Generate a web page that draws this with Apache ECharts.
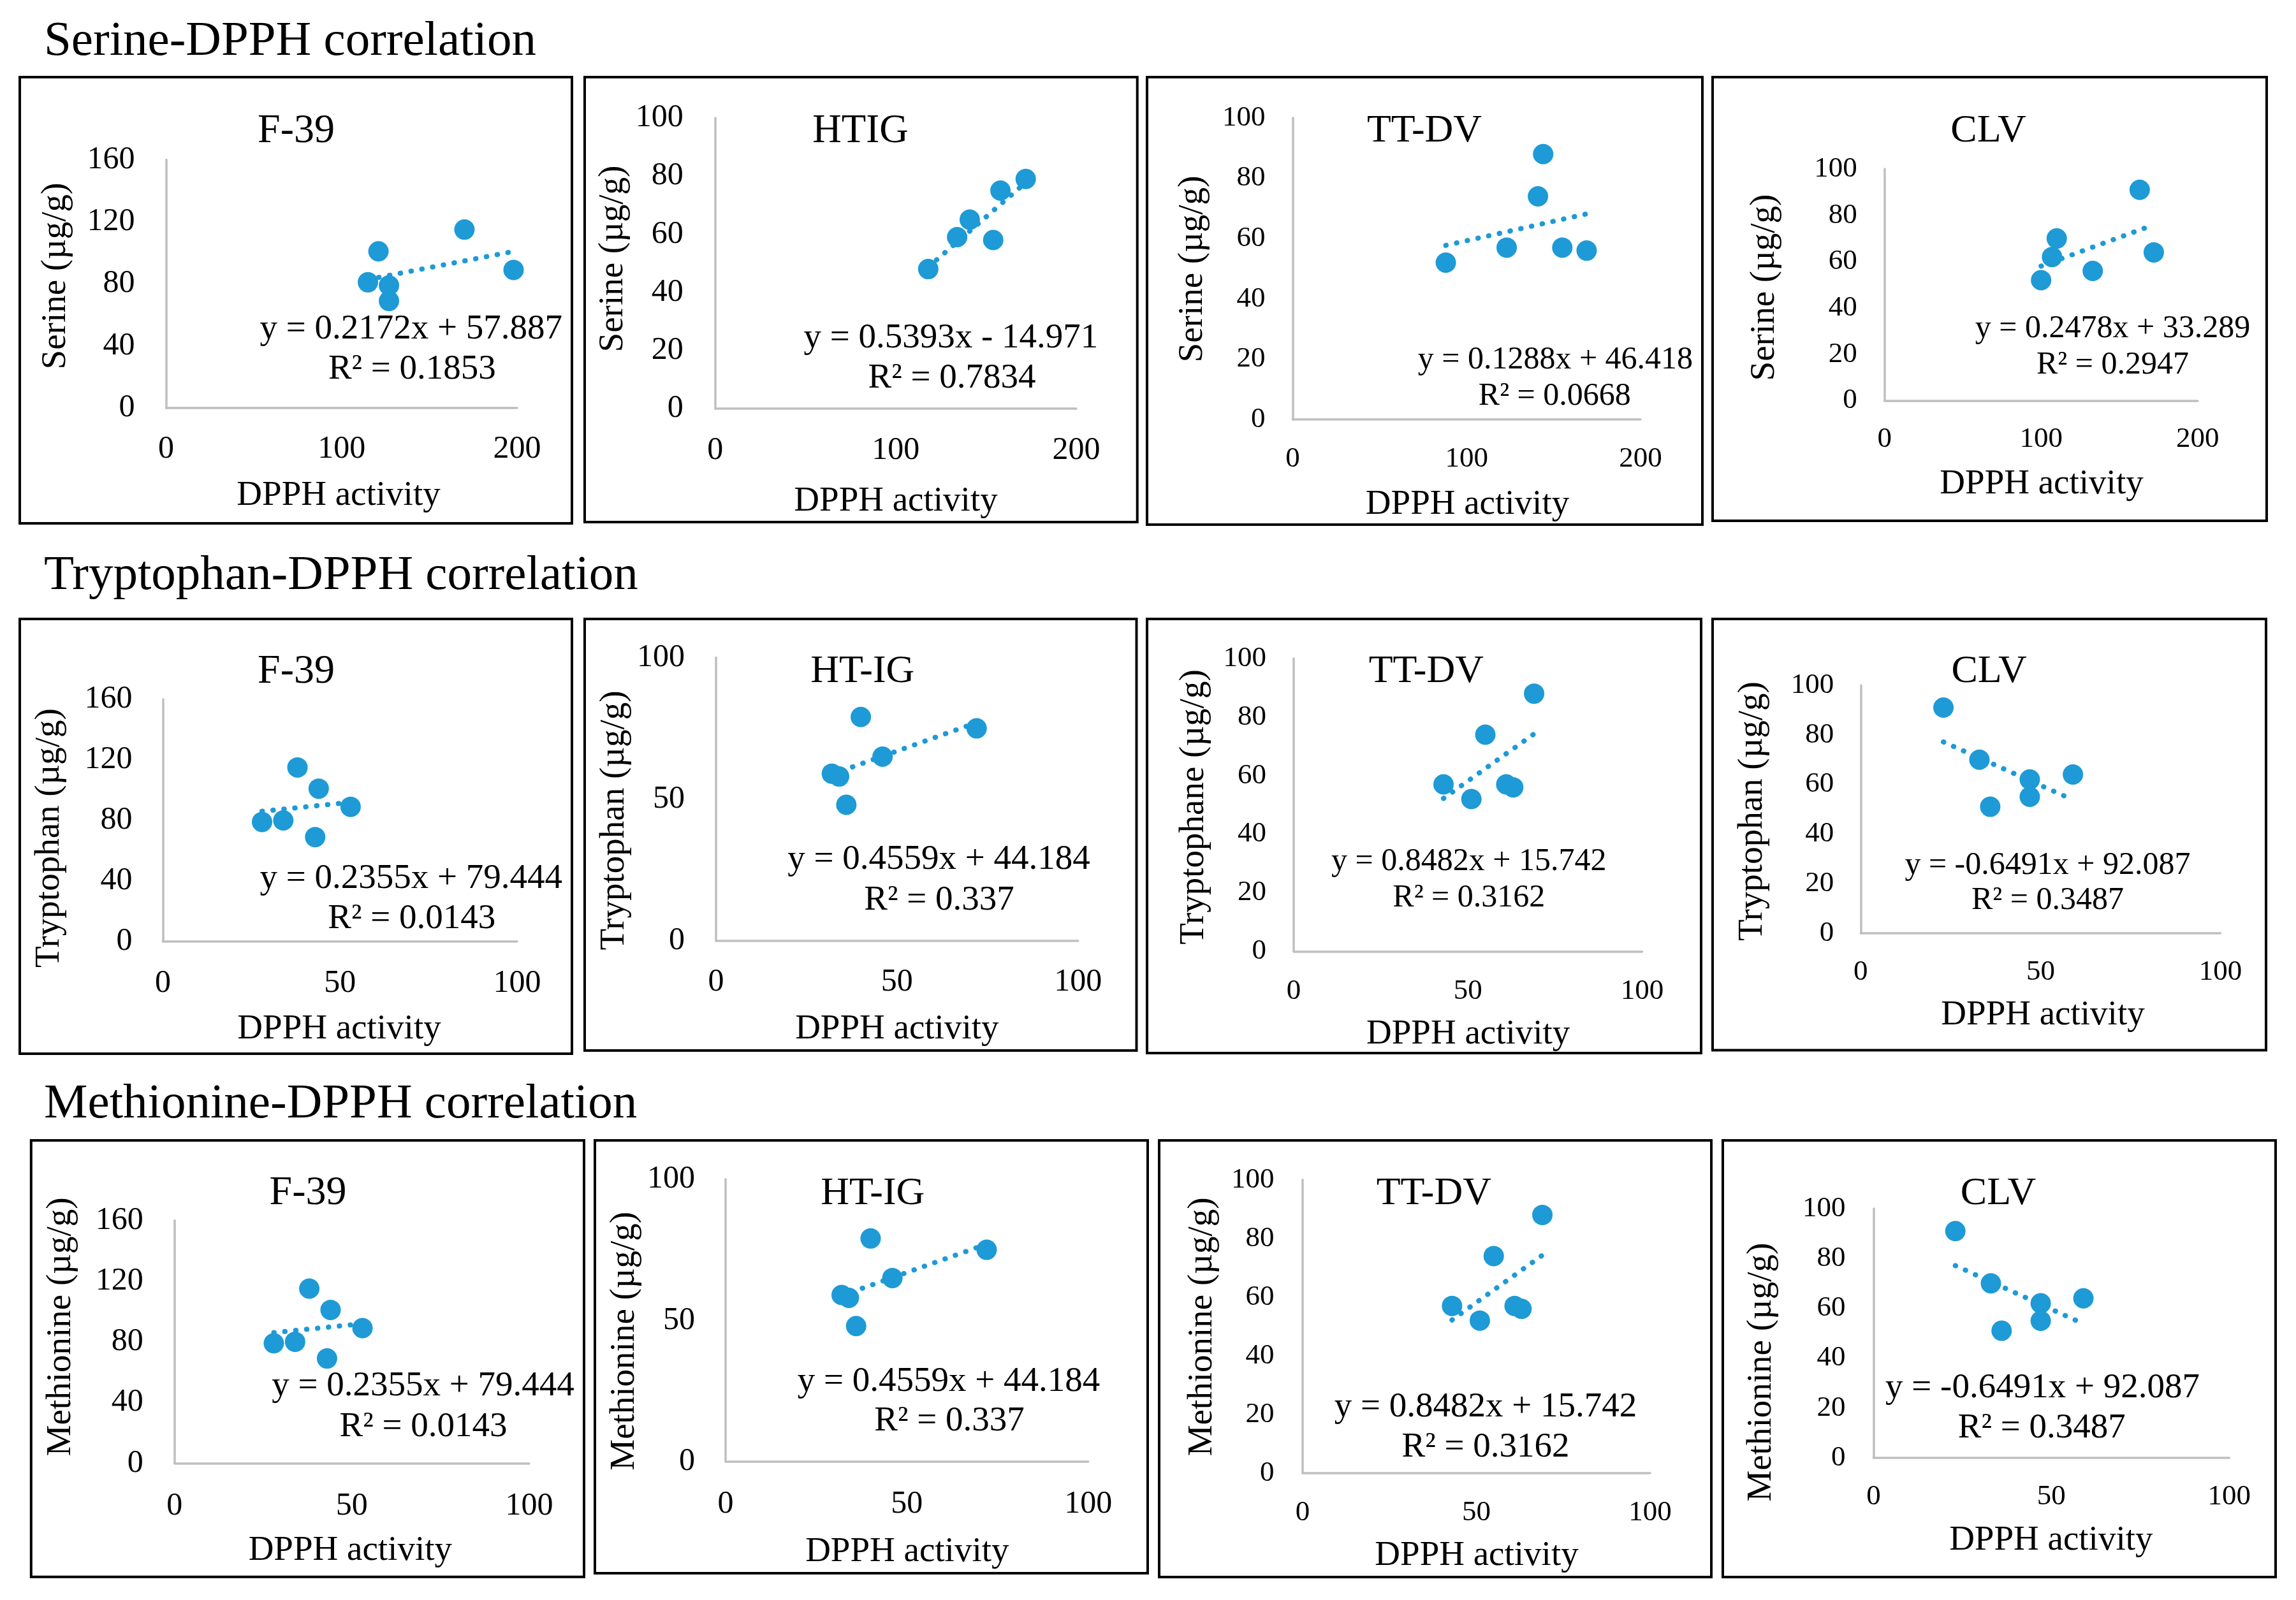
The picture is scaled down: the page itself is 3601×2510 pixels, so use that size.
<!DOCTYPE html>
<html>
<head>
<meta charset="utf-8">
<script src="https://cdn.jsdelivr.net/npm/echarts@6/dist/echarts.min.js"></script>
<style>
html,body{margin:0;padding:0;background:#ffffff;}
#c{width:3601px;height:2510px;}
</style>
</head>
<body>
<div id="c"></div>
<script>
// ---------------- DATA ----------------
const rowTitles = ['Serine-DPPH correlation', 'Tryptophan-DPPH correlation', 'Methionine-DPPH correlation'];
const panelTitles = ['F-39', 'HTIG', 'TT-DV', 'CLV', 'F-39', 'HT-IG', 'TT-DV', 'CLV', 'F-39', 'HT-IG', 'TT-DV', 'CLV'];
const yAxisNames = ['Serine (µg/g)', 'Serine (µg/g)', 'Serine (µg/g)', 'Serine (µg/g)',
  'Tryptophan (µg/g)', 'Tryptophan (µg/g)', 'Tryptophane (µg/g)', 'Tryptophan (µg/g)',
  'Methionine (µg/g)', 'Methionine (µg/g)', 'Methionine (µg/g)', 'Methionine (µg/g)'];
const xAxisName = 'DPPH activity';

// Serine
const serF39X  = [121, 170, 115, 127, 127, 198];
const serF39Y  = [101, 115, 81, 79, 69, 89];
const serHTIGX = [118, 134, 141, 154, 158, 172];
const serHTIGY = [48, 59, 65, 58, 75, 79];
const serTTDVX = [88, 123, 144, 141, 155, 169];
const serTTDVY = [52, 57, 88, 74, 57, 56];
const serCLVX  = [100, 107, 110, 133, 163, 172];
const serCLVY  = [52, 62, 70, 56, 91, 64];
// Tryptophan
const trpF39X  = [28, 34, 38, 44, 43, 53];
const trpF39Y  = [79, 80, 115, 101, 69, 89];
const trpHTIGX = [32, 34, 36, 40, 46, 72];
const trpHTIGY = [59, 58, 48, 79, 65, 75];
const trpTTDVX = [43, 51, 55, 61, 63, 69];
const trpTTDVY = [57, 52, 74, 57, 56, 88];
const trpCLVX  = [23, 33, 36, 47, 47, 59];
const trpCLVY  = [91, 70, 51, 62, 55, 64];
// Methionine
const metF39X  = [28, 34, 38, 44, 43, 53];
const metF39Y  = [79, 80, 115, 101, 69, 89];
const metHTIGX = [32, 34, 36, 40, 46, 72];
const metHTIGY = [59, 58, 48, 79, 65, 75];
const metTTDVX = [43, 51, 55, 61, 63, 69];
const metTTDVY = [57, 52, 74, 57, 56, 88];
const metCLVX  = [23, 33, 36, 47, 47, 59];
const metCLVY  = [91, 70, 51, 62, 55, 64];

// Trendline equations (as printed on the chart)
const slopes     = [0.2172, 0.5393, 0.1288, 0.2478, 0.2355, 0.4559, 0.8482, -0.6491, 0.2355, 0.4559, 0.8482, -0.6491];
const intercepts = [57.887, -14.971, 46.418, 33.289, 79.444, 44.184, 15.742, 92.087, 79.444, 44.184, 15.742, 92.087];
const eqTexts = ['y = 0.2172x + 57.887', 'y = 0.5393x - 14.971', 'y = 0.1288x + 46.418', 'y = 0.2478x + 33.289',
  'y = 0.2355x + 79.444', 'y = 0.4559x + 44.184', 'y = 0.8482x + 15.742', 'y = -0.6491x + 92.087',
  'y = 0.2355x + 79.444', 'y = 0.4559x + 44.184', 'y = 0.8482x + 15.742', 'y = -0.6491x + 92.087'];
const r2Texts = ['R² = 0.1853', 'R² = 0.7834', 'R² = 0.0668', 'R² = 0.2947',
  'R² = 0.0143', 'R² = 0.337', 'R² = 0.3162', 'R² = 0.3487',
  'R² = 0.0143', 'R² = 0.337', 'R² = 0.3162', 'R² = 0.3487'];

// Axis scales
const xMax  = [200, 200, 200, 200, 100, 100, 100, 100, 100, 100, 100, 100];
const xStep = [100, 100, 100, 100, 50, 50, 50, 50, 50, 50, 50, 50];
const yMax  = [160, 100, 100, 100, 160, 100, 100, 100, 160, 100, 100, 100];
const yStep = [40, 20, 20, 20, 40, 50, 20, 20, 40, 50, 20, 20];

const seriesX = [serF39X, serHTIGX, serTTDVX, serCLVX, trpF39X, trpHTIGX, trpTTDVX, trpCLVX, metF39X, metHTIGX, metTTDVX, metCLVX];
const seriesY = [serF39Y, serHTIGY, serTTDVY, serCLVY, trpF39Y, trpHTIGY, trpTTDVY, trpCLVY, metF39Y, metHTIGY, metTTDVY, metCLVY];

// ---------------- LAYOUT (pixels) ----------------
const rowTitlePos = [[69, 66], [69, 904], [69, 1733]];
const layout = [
  {box:[31,121,897,821],       grid:[260.5,250.6,811,640],     title:[464.5,206],   xName:[531,778],     yName:[88,433],      eq1:[644.7,517],   eq2:[646.4,580],   xm:40, ym:49, tf:50, ef:55, hf:64},
  {box:[917,121,1783.7,819],   grid:[1121.7,185,1688,641],     title:[1349.4,206],  xName:[1405,787],    yName:[962,406],     eq1:[1491.4,531],  eq2:[1493,594],    xm:41, ym:50, tf:50, ef:55, hf:63},
  {box:[1799,121,2670,823],    grid:[2027.6,185,2573,658],     title:[2234,206],    xName:[2301.5,792],  yName:[1870.8,422],  eq1:[2439.4,565],  eq2:[2438.3,622],  xm:40, ym:43, tf:45, ef:50, hf:62},
  {box:[2686,121,3555,817],    grid:[2955.7,265,3446.7,628.6], title:[3118.5,206],  xName:[3202,759.5],  yName:[2768,451],    eq1:[3313.5,516],  eq2:[3313.5,572.5],xm:38, ym:43, tf:45, ef:50, hf:62},
  {box:[31,971,897,1653],      grid:[255.4,1097,811,1477],     title:[464.5,1054],  xName:[532,1614.5],  yName:[78,1314.6],   eq1:[644.7,1378.5],eq2:[645.8,1441.8],xm:41, ym:48, tf:50, ef:55, hf:64},
  {box:[917,971,1782.5,1648],  grid:[1123,1031.5,1690.7,1475.8],title:[1352.8,1054],xName:[1406.8,1615], yName:[964,1287],    eq1:[1472.5,1349], eq2:[1473,1413],   xm:40, ym:49, tf:50, ef:55, hf:62},
  {box:[1799,971,2668,1652],   grid:[2029,1033,2575.5,1492.4], title:[2236.8,1054], xName:[2302.7,1623], yName:[1872.5,1266], eq1:[2303.8,1351.8],eq2:[2303.8,1408.6],xm:40, ym:43, tf:45, ef:50, hf:62},
  {box:[2686,971,3554,1647.5], grid:[2918.3,1075,3482.5,1464], title:[3119.6,1054], xName:[3204,1593],   yName:[2748.8,1272.6],eq1:[3211.4,1357.9],eq2:[3211.4,1413],xm:39, ym:42, tf:45, ef:50, hf:62},
  {box:[48.8,1789,916,2473.8], grid:[273.7,1914.4,830,2295.4], title:[483,1872.5],  xName:[549.3,2433],  yName:[96,2081.4],   eq1:[663.5,2174.2],eq2:[664,2238.4],  xm:42, ym:49, tf:50, ef:55, hf:64},
  {box:[933,1789,1800,2468],   grid:[1138,1849.8,1706.7,2293], title:[1368.8,1872.5],xName:[1422.8,2434.3],yName:[980,2103.8], eq1:[1487.9,2167.2],eq2:[1489,2230],  xm:42, ym:48, tf:50, ef:55, hf:62},
  {box:[1818,1789,2684,2474],  grid:[2043,1850.7,2588,2311],   title:[2248.8,1872.5],xName:[2316,2440.6],yName:[1885.6,2081.4],eq1:[2330,2208],  eq2:[2330,2270.9], xm:40, ym:44.5, tf:45, ef:55, hf:62},
  {box:[2702,1789,3569,2474],  grid:[2938.4,1896,3496.3,2287], title:[3134,1872.5], xName:[3216.8,2416.6],yName:[2762.5,2152.6],eq1:[3203.5,2177.3],eq2:[3202.3,2241],xm:39, ym:44, tf:45, ef:55, hf:62}
];

const FONT = '"Liberation Serif", "Times New Roman", serif';
const BLUE = '#1E9AD6';
const AXIS_GREY = '#BFBFBF';

const grids = [], xAxes = [], yAxes = [], series = [], graphics = [];

layout.forEach((L, i) => {
  grids.push({
    left: L.grid[0], top: L.grid[1],
    width: L.grid[2] - L.grid[0], height: L.grid[3] - L.grid[1],
    containLabel: false, outerBoundsMode: 'none'
  });
  xAxes.push({
    type: 'value', gridIndex: i, min: 0, max: xMax[i], interval: xStep[i],
    axisLine: {show: true, onZero: false, lineStyle: {color: AXIS_GREY, width: 3.5}},
    axisTick: {show: false}, splitLine: {show: false},
    axisLabel: {color: '#000', fontFamily: FONT, fontSize: L.tf, margin: L.xm}
  });
  yAxes.push({
    type: 'value', gridIndex: i, min: 0, max: yMax[i], interval: yStep[i],
    axisLine: {show: true, onZero: false, lineStyle: {color: AXIS_GREY, width: 3.5}},
    axisTick: {show: false}, splitLine: {show: false},
    axisLabel: {color: '#000', fontFamily: FONT, fontSize: L.tf, margin: L.ym}
  });
  const xs = seriesX[i], ys = seriesY[i];
  series.push({
    type: 'scatter', xAxisIndex: i, yAxisIndex: i,
    data: xs.map((x, k) => [x, ys[k]]),
    symbol: 'circle', symbolSize: 32,
    itemStyle: {color: BLUE, opacity: 1}, z: 3
  });
  const x0 = Math.min(...xs), x1 = Math.max(...xs);
  series.push({
    type: 'line', xAxisIndex: i, yAxisIndex: i,
    data: [[x0, slopes[i] * x0 + intercepts[i]], [x1, slopes[i] * x1 + intercepts[i]]],
    showSymbol: false, symbol: 'none', silent: true,
    lineStyle: {color: BLUE, width: 8, type: [0.5, 16.7], cap: 'round', opacity: 1}, z: 4
  });

  graphics.push({
    type: 'rect', silent: true,
    shape: {x: L.box[0], y: L.box[1], width: L.box[2] - L.box[0], height: L.box[3] - L.box[1]},
    style: {fill: 'none', stroke: '#000', lineWidth: 4}
  });
  graphics.push({
    type: 'text', silent: true, x: L.title[0], y: L.title[1],
    style: {text: panelTitles[i], fontFamily: FONT, fontSize: L.hf, fill: '#000', align: 'center', verticalAlign: 'middle'}
  });
  graphics.push({
    type: 'text', silent: true, x: L.xName[0], y: L.xName[1],
    style: {text: xAxisName, fontFamily: FONT, fontSize: 55, fill: '#000', align: 'center', verticalAlign: 'middle'}
  });
  graphics.push({
    type: 'text', silent: true, x: L.yName[0], y: L.yName[1], rotation: Math.PI / 2,
    style: {text: yAxisNames[i], fontFamily: FONT, fontSize: 55, fill: '#000', align: 'center', verticalAlign: 'middle'}
  });
  graphics.push({
    type: 'text', silent: true, x: L.eq1[0], y: L.eq1[1],
    style: {text: eqTexts[i], fontFamily: FONT, fontSize: L.ef, fill: '#000', align: 'center', verticalAlign: 'middle'}
  });
  graphics.push({
    type: 'text', silent: true, x: L.eq2[0], y: L.eq2[1],
    style: {text: r2Texts[i], fontFamily: FONT, fontSize: L.ef, fill: '#000', align: 'center', verticalAlign: 'middle'}
  });
});

rowTitles.forEach((t, r) => {
  graphics.push({
    type: 'text', silent: true, x: rowTitlePos[r][0], y: rowTitlePos[r][1],
    style: {text: t, fontFamily: FONT, fontSize: 77, fill: '#000', align: 'left', verticalAlign: 'middle'}
  });
});

const chart = echarts.init(document.getElementById('c'), null, {renderer: 'canvas', width: 3601, height: 2510});
chart.setOption({
  backgroundColor: '#ffffff',
  animation: false,
  grid: grids,
  xAxis: xAxes,
  yAxis: yAxes,
  series: series,
  graphic: graphics
});
</script>
</body>
</html>
